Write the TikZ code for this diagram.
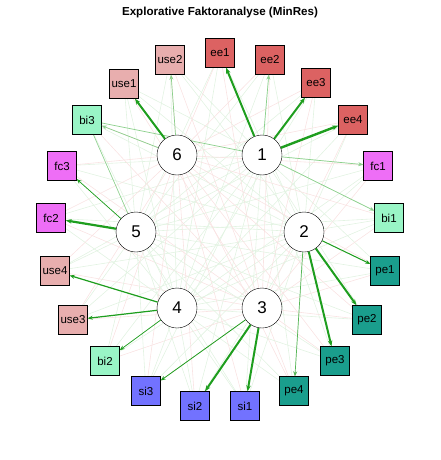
\documentclass[tikz,border=0pt]{standalone}
\usepackage{fontspec}
\setmainfont{Liberation Sans}
\usetikzlibrary{arrows.meta, backgrounds}

\definecolor{eecol}{HTML}{DC6262}
\definecolor{usecol}{HTML}{E8AEAE}
\definecolor{ficol}{HTML}{EE6EF6}
\definecolor{bicol}{HTML}{99F5C6}
\definecolor{pecol}{HTML}{1A9E8D}
\definecolor{sicol}{HTML}{7272FF}
\definecolor{loadcol}{HTML}{1E9E1E}
\definecolor{lightcol}{HTML}{8CD08C}
\definecolor{faintpos}{HTML}{E2F3E2}
\definecolor{faintneg}{HTML}{F9E3E3}

\begin{document}
\begin{tikzpicture}[
    x=1pt, y=-1pt,
    factor/.style={draw, circle, fill=white, minimum size=40pt, inner sep=0pt, font=\fontsize{17}{17}\selectfont},
    item/.style={draw, rectangle, minimum size=29pt, inner sep=0pt, font=\fontsize{11.5}{12}\selectfont},
    strong/.style={draw=loadcol, line width=2pt, -{Stealth[length=6pt, width=4.5pt]}},
    medium/.style={draw=loadcol, line width=1pt, -{Stealth[length=5pt, width=4pt]}},
    light/.style={draw=lightcol, line width=0.7pt, -{Stealth[length=5pt, width=4pt]}},
    faint/.style={line width=0.6pt}
]
\useasboundingbox (0,0) rectangle (440,460);

% title
\node[font=\bfseries\fontsize{11.6}{12}\selectfont] (title) at (220,13) {Explorative Faktoranalyse (MinRes)};

% factors
\node[factor] (f1) at (262,155) {1};
\node[factor] (f2) at (304,232) {2};
\node[factor] (f3) at (262,308) {3};
\node[factor] (f4) at (177,308) {4};
\node[factor] (f5) at (136,232) {5};
\node[factor] (f6) at (177,155) {6};

% items
\node[item, fill=eecol] (ee1) at (220,53) {ee1};
\node[item, fill=eecol] (ee2) at (270,60) {ee2};
\node[item, fill=eecol] (ee3) at (316,83) {ee3};
\node[item, fill=eecol] (ee4) at (353,120) {ee4};
\node[item, fill=ficol] (fc1) at (378,166) {fc1};
\node[item, fill=bicol] (bi1) at (389,218) {bi1};
\node[item, fill=pecol] (pe1) at (385,271) {pe1};
\node[item, fill=pecol] (pe2) at (367,320) {pe2};
\node[item, fill=pecol] (pe3) at (335,361) {pe3};
\node[item, fill=pecol] (pe4) at (294,391) {pe4};
\node[item, fill=sicol] (si1) at (245,406) {si1};
\node[item, fill=sicol] (si2) at (195,406) {si2};
\node[item, fill=sicol] (si3) at (146,391) {si3};
\node[item, fill=bicol] (bi2) at (105,361) {bi2};
\node[item, fill=usecol] (use3) at (73,320) {use3};
\node[item, fill=usecol] (use4) at (55,271) {use4};
\node[item, fill=ficol] (fc2) at (51,218) {fc2};
\node[item, fill=ficol] (fc3) at (62,166) {fc3};
\node[item, fill=bicol] (bi3) at (87,120) {bi3};
\node[item, fill=usecol] (use1) at (124,84) {use1};
\node[item, fill=usecol] (use2) at (170,60) {use2};

% loadings
\begin{scope}[on background layer]
  % weak loadings
  \foreach \f in {1,...,6}{
    \foreach [count=\i] \it in {ee1,ee2,ee3,ee4,fc1,bi1,pe1,pe2,pe3,pe4,si1,si2,si3,bi2,use3,use4,fc2,fc3,bi3,use1,use2}{
      \pgfmathtruncatemacro\k{mod(\f*5+\i*3,3)}
      \ifnum\k=0 \def\fcol{faintneg}\else\def\fcol{faintpos}\fi
      \draw[faint, draw=\fcol] (f\f) -- (\it);
    }
  }
  \draw[draw=lightcol, line width=0.6pt] (f5) -- (bi3);
  \draw[draw=lightcol, line width=0.6pt] (f1) -- (bi3);
\end{scope}

\draw[strong, line width=2pt] (f1) -- (ee1);
\draw[light] (f1) -- (ee2);
\draw[strong] (f1) -- (ee3);
\draw[strong, line width=2.4pt] (f1) -- (ee4);
\draw[light] (f1) -- (fc1);
\draw[light] (f1) -- (bi1);

\draw[medium] (f2) -- (pe1);
\draw[strong] (f2) -- (pe2);
\draw[strong] (f2) -- (pe3);
\draw[light, draw=loadcol!75] (f2) -- (pe4);

\draw[strong] (f3) -- (si1);
\draw[strong] (f3) -- (si2);
\draw[medium, line width=0.8pt] (f3) -- (si3);

\draw[medium, line width=1.2pt] (f4) -- (use4);
\draw[medium, line width=1.2pt] (f4) -- (use3);
\draw[medium, line width=0.7pt] (f4) -- (bi2);

\draw[strong, line width=2.2pt] (f5) -- (fc2);
\draw[medium, line width=0.7pt] (f5) -- (fc3);

\draw[strong] (f6) -- (use1);
\draw[light] (f6) -- (use2);
\draw[light] (f6) -- (bi3);

\end{tikzpicture}
\end{document}
